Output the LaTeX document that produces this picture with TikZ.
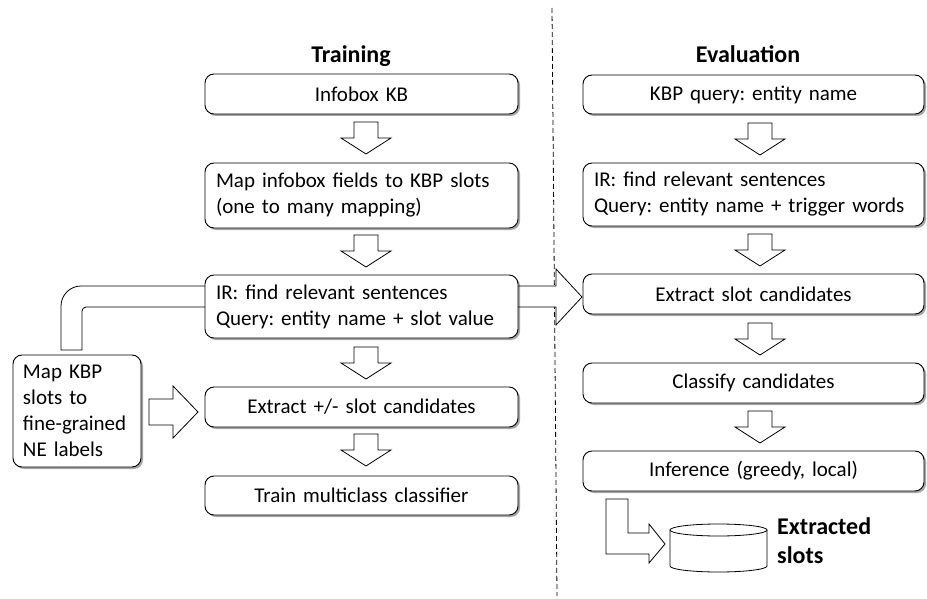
\documentclass[tikz,border=0pt]{standalone}
\usepackage{fontspec}
\setmainfont{Carlito}
\usetikzlibrary{shadows}
\frenchspacing
\begin{document}
\begin{tikzpicture}[x=1pt,y=-1pt,
  box/.style={draw, rounded corners=9pt, fill=white, line width=0.9pt,
    font=\fontsize{21}{26}\selectfont, inner xsep=11pt, inner ysep=0pt,
    drop shadow={shadow xshift=2pt, shadow yshift=-2pt, opacity=0.35, fill=black}},
  lbox/.style={box, text width=291pt, minimum width=313pt},
  rbox/.style={box, text width=319pt, minimum width=341pt},
  title/.style={font=\fontsize{24}{28}\selectfont\bfseries, inner sep=0pt, anchor=base},
  blockarrow/.style={draw, fill=white, line width=0.8pt, line join=miter},
  darr/.pic={\draw[blockarrow] (-12,0) -- (12,0) -- (12,16) -- (25,16) -- (0,32) -- (-25,16) -- (-12,16) -- cycle;}
]
\useasboundingbox (0,0) rectangle (927,599);

% divider
\draw[line width=0.8pt, dash pattern=on 5pt off 3pt] (552,8) -- (557,596);

% titles
\node[title] (ttrain) at (351,63) {Training};
\node[title] (teval) at (748,63) {Evaluation};

% big bent arrow (left box -> IR -> right extract)
\draw[blockarrow] (61,350) -- (61,306) .. controls (61,295) and (70,286) .. (81,286)
  -- (556,286) -- (556,269) -- (582,297) -- (556,325) -- (556,307)
  -- (86,307) .. controls (84,307) and (82,309) .. (82,311) -- (82,350) -- cycle;

% left column
\node[lbox, minimum height=40pt, align=center] (l1) at (361.5,94) {Infobox KB};
\node[lbox, minimum height=65pt, align=left] (l2) at (361.5,195.5) {Map infobox fields to KBP slots\\(one to many mapping)};
\node[lbox, minimum height=63pt, align=left] (l3) at (361.5,306.5) {IR: find relevant sentences\\Query: entity name + slot value};
\node[lbox, minimum height=40pt, align=center] (l4) at (361.5,407) {Extract +/- slot candidates};
\node[lbox, minimum height=39pt, align=center] (l5) at (361.5,495.5) {Train multiclass classifier};

\node[box, text width=108pt, minimum width=128pt, minimum height=112pt, align=left, inner xsep=10pt] (lk) at (77,411)
  {Map KBP\\slots to\\fine-grained\\NE labels};

\pic at (366,122) {darr};
\pic at (366,235) {darr};
\pic at (366,347) {darr};
\pic at (366,434) {darr};

% arrow from lk to l4
\draw[blockarrow] (149,399) -- (173,399) -- (173,386) -- (198,412) -- (173,438) -- (173,425) -- (149,425) -- cycle;

% right column
\node[rbox, minimum height=39pt, align=center] (r1) at (753.5,94.5) {KBP query: entity name};
\node[rbox, minimum height=63pt, align=left] (r2) at (753.5,194.5) {IR: find relevant sentences\\Query: entity name + trigger words};
\node[rbox, minimum height=40pt, align=center] (r3) at (753.5,294) {Extract slot candidates};
\node[rbox, minimum height=40pt, align=center] (r4) at (753.5,383) {Classify candidates};
\node[rbox, minimum height=40pt, align=center] (r5) at (753.5,471) {Inference (greedy, local)};

\pic at (760,123) {darr};
\pic at (760,234) {darr};
\pic at (760,323) {darr};
\pic at (760,411) {darr};

% bent arrow to cylinder
\draw[blockarrow] (606,499) -- (606,554) -- (649,554) -- (649,563) -- (665,544) -- (649,524) -- (649,533) -- (628,533) -- (628,499) -- cycle;

% cylinder
\draw[line width=0.8pt, fill=white] (670,530) -- (670,566) arc[start angle=180, end angle=0, x radius=48.5, y radius=6] -- (767,530);
\draw[line width=0.8pt, fill=white] (718.5,530) ellipse[x radius=48.5, y radius=6];

\node[font=\fontsize{24}{29}\selectfont\bfseries, align=left, anchor=north west, inner sep=0pt] (ex) at (777,517) {Extracted\\slots};
\end{tikzpicture}
\end{document}
